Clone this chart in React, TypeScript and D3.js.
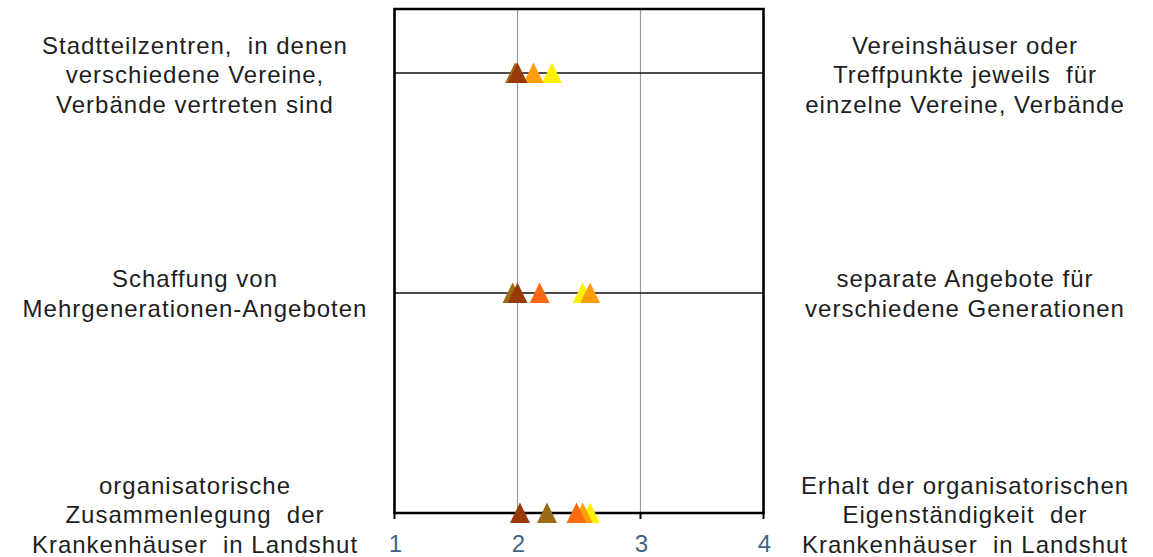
import React from "react";
import * as d3 from "d3";

const leftLabels: string[][] = [
  ["Stadtteilzentren,  in denen", "verschiedene Vereine,", "Verbände vertreten sind"],
  ["Schaffung von", "Mehrgenerationen-Angeboten"],
  ["organisatorische", "Zusammenlegung  der", "Krankenhäuser  in Landshut"],
];
const rightLabels: string[][] = [
  ["Vereinshäuser oder", "Treffpunkte jeweils  für", "einzelne Vereine, Verbände"],
  ["separate Angebote für", "verschiedene Generationen"],
  ["Erhalt der organisatorischen", "Eigenständigkeit  der", "Krankenhäuser  in Landshut"],
];
const rows = ["r1", "r2", "r3"];
const xTicks = [1, 2, 3, 4];

// series drawn in this order (last on top)
const seriesNames = ["gelb", "orange", "rotorange", "oliv", "dunkelbraun"];
const seriesColors = ["#FFF200", "#FF9E0A", "#FF6A0E", "#9C6A12", "#983A06"];
const gelb = [2.28, 2.53, 2.59];
const orange = [2.13, 2.59, 2.53];
const rotorange = [1.99, 2.18, 2.48];
const oliv = [1.98, 1.96, 2.24];
const dunkelbraun = [2.0, 2.0, 2.02];
const seriesValues = [gelb, orange, rotorange, oliv, dunkelbraun];

const W = 1153;
const H = 557;
const plotLeft = 394.5;
const plotRight = 763.5;
const plotTop = 9;
const plotBottom = 513;

export default function App() {
  const x = d3.scaleLinear().domain([1, 4]).range([plotLeft, plotRight]);
  const y = d3.scalePoint<string>().domain(rows).range([73, 513]);
  const lineH = 29.5;
  const fontSize = 24;
  const tri = (cx: number, cy: number) =>
    `M${cx},${cy - 10.5}L${cx + 10},${cy + 10}L${cx - 10},${cy + 10}Z`;

  const renderLabels = (labels: string[][], cx: number) =>
    labels.map((lines, i) => {
      const cy = (y(rows[i]) as number) + (lines.length === 3 ? 1.5 : 0.5);
      const first = cy - ((lines.length - 1) * lineH) / 2;
      return (
        <text
          key={i}
          x={cx}
          textAnchor="middle"
          fontFamily="'Liberation Sans', Arial, sans-serif"
          fontSize={fontSize}
          fill="#1e1e1e"
          letterSpacing={1}
          style={{ whiteSpace: "pre" }}
        >
          {lines.map((l, j) => (
            <tspan key={j} x={cx} y={first + j * lineH + 8.5}>
              {l}
            </tspan>
          ))}
        </text>
      );
    });

  return (
    <div style={{ position: "absolute", left: 0, top: 0 }}>
      <svg width={W} height={H} style={{ display: "block" }}>
        <rect x={0} y={0} width={W} height={H} fill="#ffffff" />
        {/* vertical gridlines */}
        {xTicks.slice(1, -1).map((t) => (
          <line key={t} x1={x(t)} x2={x(t)} y1={plotTop} y2={plotBottom} stroke="#9a9a9a" strokeWidth={1.2} />
        ))}
        {/* row lines */}
        {rows.slice(0, -1).map((r) => (
          <line key={r} x1={plotLeft} x2={plotRight} y1={y(r)} y2={y(r)} stroke="#111" strokeWidth={1.3} />
        ))}
        {/* frame */}
        <path
          d={`M${plotLeft},${plotBottom}L${plotLeft},${plotTop}L${plotRight},${plotTop}L${plotRight},${plotBottom}`}
          fill="none"
          stroke="#000"
          strokeWidth={2.6}
        />
        <line x1={plotLeft - 1.3} x2={plotRight + 1.3} y1={plotBottom} y2={plotBottom} stroke="#000" strokeWidth={2.6} />
        {xTicks.map((t) => (
          <g key={t}>
            <line x1={x(t)} x2={x(t)} y1={plotBottom} y2={plotBottom + 6} stroke="#000" strokeWidth={2} />
            <text
              x={x(t) + 1}
              y={552}
              textAnchor="middle"
              fontFamily="'Liberation Sans', Arial, sans-serif"
              fontSize={fontSize}
              fill="#3f6586"
            >
              {t}
            </text>
          </g>
        ))}
        {/* triangles */}
        {seriesValues.map((vals, si) =>
          vals.map((v, ri) => (
            <path key={`${si}-${ri}`} d={tri(x(v), y(rows[ri]) as number)} fill={seriesColors[si]}>
              <title>{seriesNames[si]}</title>
            </path>
          ))
        )}
        {renderLabels(leftLabels, 195)}
        {renderLabels(rightLabels, 965)}
      </svg>
    </div>
  );
}
